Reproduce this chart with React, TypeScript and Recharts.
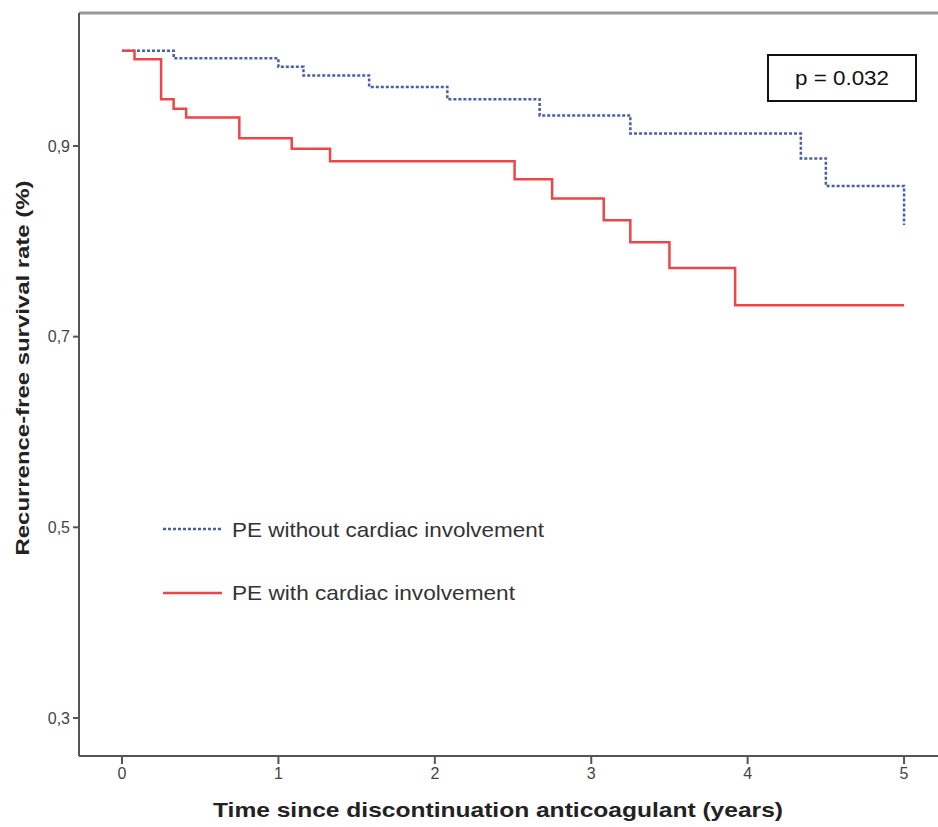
import { Line, LineChart, ReferenceLine, XAxis, YAxis } from "recharts";

// Kaplan-Meier steps (years, survival proportion)
const noCardiacTimes = [0, 0.33, 1.0, 1.16, 1.58, 2.08, 2.67, 3.25, 4.34, 4.5, 5.0];
const noCardiacRates = [1.0, 0.992, 0.983, 0.974, 0.962, 0.949, 0.932, 0.913, 0.887, 0.858, 0.817];

const cardiacTimes = [0, 0.08, 0.25, 0.33, 0.41, 0.75, 1.085, 1.33, 2.51, 2.75, 3.08, 3.25, 3.5, 3.92, 5.0];
const cardiacRates = [1.0, 0.991, 0.949, 0.939, 0.93, 0.908, 0.897, 0.884, 0.865, 0.845, 0.822, 0.799, 0.772, 0.733, 0.733];

const xTicks = [0, 1, 2, 3, 4, 5];
const yTicks = [0.3, 0.5, 0.7, 0.9];
const xDomain = [-0.275, 5.217];
const yDomain = [0.2601, 1.0395];

const legendLabels = ["PE without cardiac involvement", "PE with cardiac involvement"];
const pValueText = "p = 0.032";
const xTitle = "Time since discontinuation anticoagulant (years)";
const yTitle = "Recurrence-free survival rate (%)";

const BLUE = "#4a5ea8";
const RED = "#ec4649";
const FONT = "'Liberation Sans', Arial, sans-serif";

function toPoints(times: number[], rates: number[]) {
  return times.map((t, i) => ({ t, rate: rates[i] }));
}

export default function App() {
  const blueData = toPoints(noCardiacTimes, noCardiacRates);
  const redData = toPoints(cardiacTimes, cardiacRates);

  return (
    <div style={{ position: "absolute", left: 0, top: 0, width: 938, height: 827, background: "#fff", fontFamily: FONT }}>
      <LineChart width={938} height={827} margin={{ top: 13, right: 0, left: 0, bottom: 0 }}>
        <XAxis
          type="number"
          dataKey="t"
          domain={xDomain}
          ticks={xTicks}
          allowDataOverflow
          height={71}
          stroke="#555"
          strokeWidth={2}
          tickSize={8}
          tick={{ fontSize: 16, fill: "#444", fontFamily: FONT }}
          tickLine={{ stroke: "#555", strokeWidth: 2 }}
          tickMargin={4}
        />
        <YAxis
          type="number"
          domain={yDomain}
          ticks={yTicks}
          allowDataOverflow
          width={79}
          stroke="#555"
          strokeWidth={2}
          tickSize={6}
          tickMargin={3}
          tickFormatter={(v: number) => v.toFixed(1).replace(".", ",")}
          tick={{ fontSize: 16, fill: "#444", fontFamily: FONT }}
          tickLine={{ stroke: "#555", strokeWidth: 2 }}
        />
        <ReferenceLine y={yDomain[1]} stroke="#999" strokeWidth={3} />
        <Line
          data={blueData}
          dataKey="rate"
          type="stepAfter"
          stroke={BLUE}
          strokeWidth={2.5}
          strokeDasharray="3 2"
          dot={false}
          isAnimationActive={false}
        />
        <Line
          data={redData}
          dataKey="rate"
          type="stepAfter"
          stroke={RED}
          strokeWidth={2.5}
          dot={false}
          isAnimationActive={false}
        />
      </LineChart>

      {/* titles, legend and p-value drawn over the chart */}
      <svg
        width={938}
        height={827}
        style={{ position: "absolute", left: 0, top: 0, pointerEvents: "none", fontFamily: FONT }}
      >
        <text
          x={0}
          y={0}
          transform="translate(29 368) rotate(-90)"
          textAnchor="middle"
          fontSize={19}
          fontWeight="bold"
          fill="#222"
          textLength={375}
          lengthAdjust="spacingAndGlyphs"
        >
          {yTitle}
        </text>
        <text
          x={213}
          y={817}
          fontSize={21}
          fontWeight="bold"
          fill="#222"
          textLength={570}
          lengthAdjust="spacingAndGlyphs"
        >
          {xTitle}
        </text>

        <line x1={163} y1={529} x2={222} y2={529} stroke={BLUE} strokeWidth={2.5} strokeDasharray="3 2" />
        <text x={232} y={537} fontSize={21} fill="#333" textLength={312} lengthAdjust="spacingAndGlyphs">
          {legendLabels[0]}
        </text>
        <line x1={163} y1={593} x2={222} y2={593} stroke={RED} strokeWidth={2.5} />
        <text x={232} y={600} fontSize={21} fill="#333" textLength={283} lengthAdjust="spacingAndGlyphs">
          {legendLabels[1]}
        </text>

        <rect x={768} y={55} width={148} height={46} fill="#fff" stroke="#111" strokeWidth={2} />
        <text x={795} y={85} fontSize={21} fill="#111" textLength={94} lengthAdjust="spacingAndGlyphs">
          {pValueText}
        </text>
      </svg>
    </div>
  );
}
